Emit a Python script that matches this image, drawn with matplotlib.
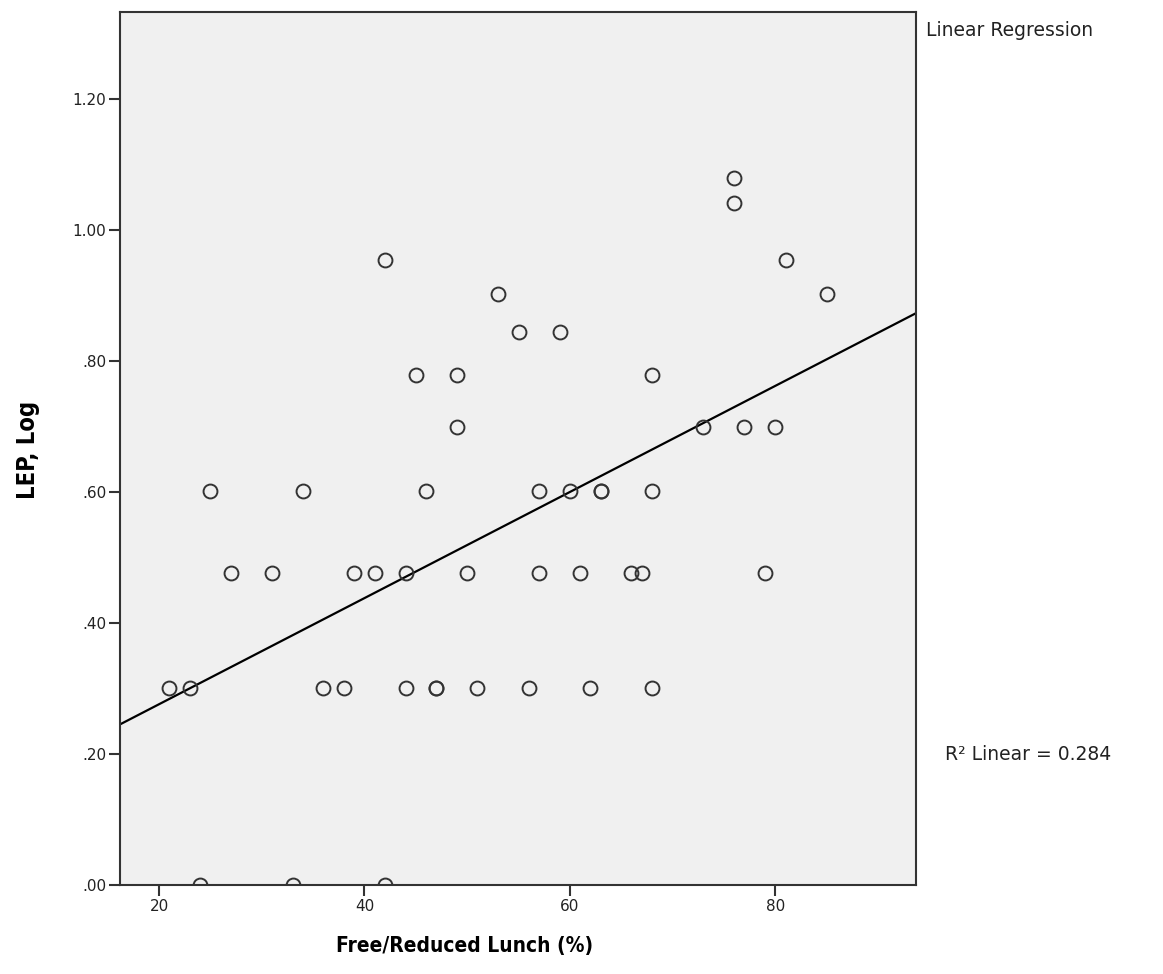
import numpy as np
import matplotlib
matplotlib.use("Agg")
import matplotlib.pyplot as plt
from matplotlib.ticker import FuncFormatter

# free/reduced lunch (%) and LEP count, grouped by LEP count
lunch_by_lep = {
    1: [24, 33, 42],
    2: [21, 23, 36, 38, 44, 47, 47, 51, 56, 62, 68],
    3: [27, 31, 39, 41, 44, 50, 57, 61, 66, 67, 79],
    4: [25, 34, 46, 57, 60, 63, 63, 68],
    5: [49, 73, 77, 80],
    6: [45, 49, 68],
    7: [55, 59],
    8: [53, 85],
    9: [42, 81],
    11: [76],
    12: [76],
}

x = []
y = []
for lep, vals in lunch_by_lep.items():
    x += vals
    y += [np.log10(lep)] * len(vals)
x = np.array(x, dtype=float)
y = np.array(y)

x_ticks = [20, 40, 60, 80]
y_ticks = [0.0, 0.2, 0.4, 0.6, 0.8, 1.0, 1.2]
r2_text = "R² Linear = 0.284"

# linear fit
slope, intercept = np.polyfit(x, y, 1)

fig = plt.figure(figsize=(11.63, 9.74), dpi=100)
ax = fig.add_axes([0.1032, 0.0914, 0.6844, 0.8963])
ax.set_facecolor("#f0f0f0")

xlim = (16.2, 93.7)
ax.set_xlim(xlim)
ax.set_ylim(0, 1.333)

ax.plot(x, y, "o", ms=10, mfc="none", mec="#333333", mew=1.4, zorder=3)
xl = np.array(xlim)
ax.plot(xl, intercept + slope * xl, color="black", lw=1.6, zorder=2)

ax.set_xticks(x_ticks)
ax.set_yticks(y_ticks)
ax.yaxis.set_major_formatter(FuncFormatter(lambda v, p: ("%.2f" % v).lstrip("0") if v < 1 else "%.2f" % v))
ax.tick_params(direction="out", length=8, width=1.5, color="#333333",
               labelsize=11, labelcolor="#222222", pad=2)
for s in ax.spines.values():
    s.set_color("#333333")
    s.set_linewidth(1.5)

fig.text(465 / 1163, 1 - 946 / 974, "Free/Reduced Lunch (%)", ha="center", va="center",
         fontsize=15, fontweight="bold", fontstretch="condensed")
fig.text(28 / 1163, 1 - 450 / 974, "LEP, Log", ha="center", va="center", rotation=90,
         fontsize=17, fontweight="bold", fontstretch="condensed")

fig.text(926 / 1163, 1 - 30 / 974, "Linear Regression", ha="left", va="center",
         fontsize=13.5, color="#222222")
fig.text(945 / 1163, 1 - 755 / 974, r2_text, ha="left", va="center",
         fontsize=13.5, color="#222222")

fig.savefig("out.png", dpi=100)
